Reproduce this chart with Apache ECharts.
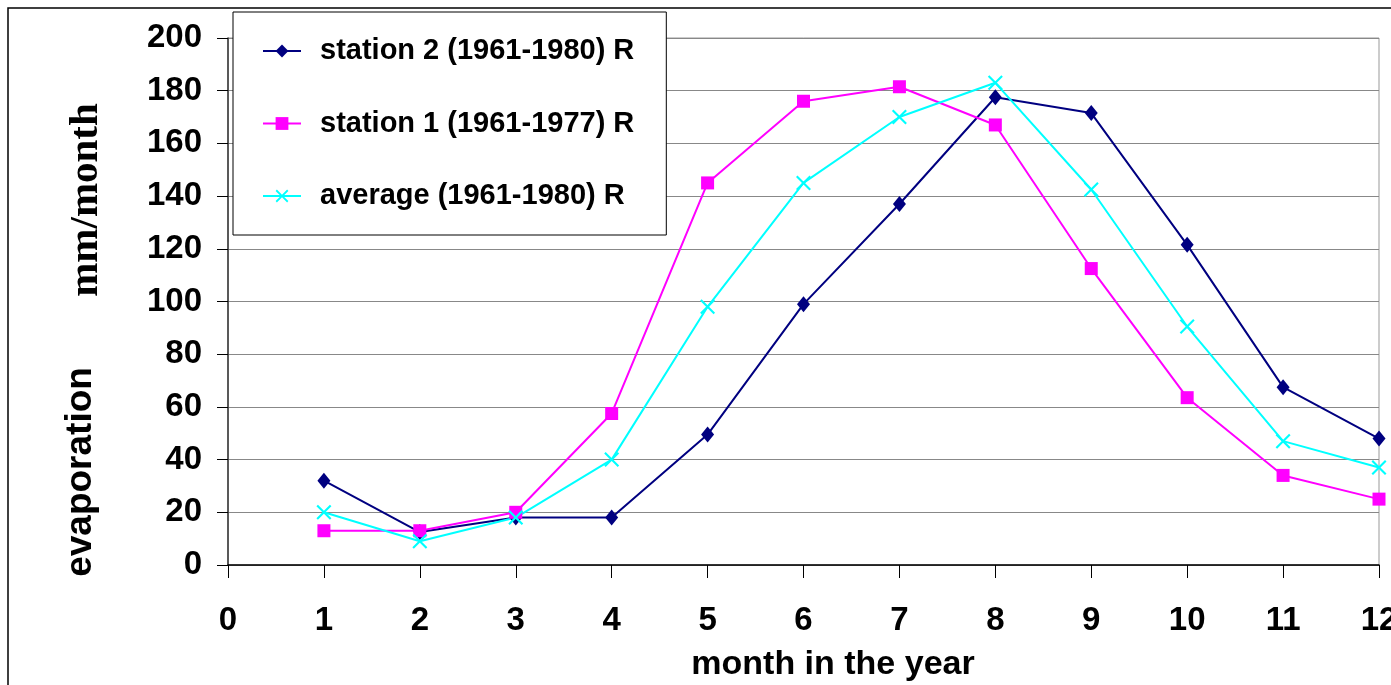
<!DOCTYPE html>
<html>
<head>
<meta charset="utf-8">
<script src="https://cdn.jsdelivr.net/npm/echarts@6/dist/echarts.min.js"></script>
<style>
html,body{margin:0;padding:0;background:#fff;}
#chart{width:1391px;height:685px;}
</style>
</head>
<body>
<div id="chart"></div>
<script>
var months = [1,2,3,4,5,6,7,8,9,10,11,12];
var station2 = [32, 12.5, 18, 18, 49.5, 99, 137, 177.5, 171.5, 121.5, 67.5, 48];
var station1 = [13, 13, 20, 57.5, 145, 176, 181.5, 167, 112.5, 63.5, 34, 25];
var average  = [20, 9, 18, 40, 98, 145, 170, 183, 142.5, 90.5, 47, 37];
var seriesNames = ['station 2 (1961-1980) R', 'station 1 (1961-1977) R', 'average (1961-1980) R'];
var yTitleA = 'evaporation';
var yTitleB = 'mm/month';
var xTitle = 'month in the year';

function pairs(vals){ return months.map(function(m,i){ return [m, vals[i]]; }); }

var SANS = '"Liberation Sans", Arial, sans-serif';
var SERIF = '"Liberation Serif", "Times New Roman", serif';
var crossPath = 'path://M0,1L1,0L5,4L9,0L10,1L6,5L10,9L9,10L5,6L1,10L0,9L4,5Z';

var chart = echarts.init(document.getElementById('chart'), null, {renderer:'canvas'});
chart.setOption({
  backgroundColor: '#ffffff',
  animation: false,
  grid: { left: 228, top: 38, right: 12, bottom: 120, containLabel: false, outerBoundsMode: 'none',
          show: true, borderColor: '#999', borderWidth: 1, backgroundColor: 'transparent' },
  xAxis: {
    type: 'value', min: 0, max: 12, interval: 1,
    axisLine: { show: true, onZero: false, lineStyle: { color: '#000', width: 1.5 } },
    axisTick: { show: true, length: 13, lineStyle: { color: '#000', width: 1 } },
    axisLabel: { margin: 39, color: '#000', fontFamily: SANS, fontWeight: 'bold', fontSize: 33, showMaxLabel: true, showMinLabel: true, hideOverlap: false },
    splitLine: { show: false }
  },
  yAxis: {
    type: 'value', min: 0, max: 200, interval: 20,
    axisLine: { show: true, lineStyle: { color: '#333', width: 1.5 } },
    axisTick: { show: true, length: 11, lineStyle: { color: '#000', width: 1 } },
    axisLabel: { margin: 26, color: '#000', fontFamily: SANS, fontWeight: 'bold', fontSize: 33 },
    splitLine: { show: true, lineStyle: { color: '#888', width: 1.2 } }
  },
  legend: {
    orient: 'vertical', left: 233, top: 12,
    backgroundColor: '#fff', borderColor: '#000', borderWidth: 1,
    padding: [23, 32, 23, 29],
    itemWidth: 38, itemHeight: 16, itemGap: 40.5,
    textStyle: { color: '#000', fontFamily: SANS, fontWeight: 'bold', fontSize: 29, lineHeight: 32, padding: [0, 0, 0, 14] },
    data: seriesNames
  },
  graphic: [
    { type: 'rect', shape: { x: 8, y: 8, width: 1400, height: 700 }, style: { fill: 'none', stroke: '#000', lineWidth: 1.5 }, silent: true, z: 100 },
    { type: 'text', x: 81, y: 472, rotation: Math.PI/2, style: { text: yTitleA, font: 'bold 37px ' + SANS, fill: '#000', textAlign: 'center', textVerticalAlign: 'middle' } },
    { type: 'text', x: 86, y: 200, rotation: Math.PI/2, style: { text: yTitleB, font: 'bold 41px ' + SERIF, fill: '#000', textAlign: 'center', textVerticalAlign: 'middle' } },
    { type: 'text', x: 833, y: 665, style: { text: xTitle, font: 'bold 34px ' + SANS, fill: '#000', textAlign: 'center', textVerticalAlign: 'middle' } }
  ],
  series: [
    { name: seriesNames[0], type: 'line', data: pairs(station2), symbol: 'diamond', symbolSize: [13, 16],
      lineStyle: { color: '#000080', width: 2 }, itemStyle: { color: '#000080' } },
    { name: seriesNames[1], type: 'line', data: pairs(station1), symbol: 'rect', symbolSize: 13,
      lineStyle: { color: '#FF00FF', width: 2 }, itemStyle: { color: '#FF00FF' } },
    { name: seriesNames[2], type: 'line', data: pairs(average), symbol: crossPath, symbolSize: 15,
      lineStyle: { color: '#00FFFF', width: 2 }, itemStyle: { color: '#00FFFF' } }
  ]
});
</script>
</body>
</html>
